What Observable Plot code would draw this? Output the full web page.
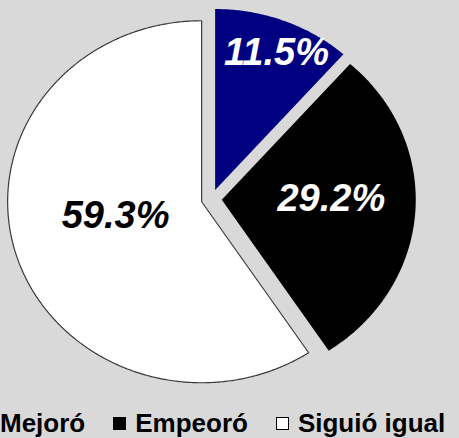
<!DOCTYPE html>
<html><head><meta charset="utf-8">
<script src="https://cdn.jsdelivr.net/npm/d3@7"></script>
<script src="https://cdn.jsdelivr.net/npm/@observablehq/plot@0.6"></script>
<style>
html,body{margin:0;padding:0;background:#d9d9d9;overflow:hidden;width:459px;height:438px}
#chart svg{display:block;background:#d9d9d9}
#legend{display:flex;align-items:center;height:38px;box-sizing:border-box;padding-top:9px;margin-left:-22px;font:bold 26px "Liberation Sans",Arial,sans-serif;color:#000;white-space:nowrap}
.item{display:flex;align-items:center;margin-right:28px}
.sw{width:13px;height:13px;box-sizing:border-box;margin-right:9px;flex:none}
</style></head><body>
<div id="chart"></div><div id="legend"></div>
<script>
// ---- data ----
const categories = ["Mejoró", "Empeoró", "Siguió igual"];
const values = [11.5, 29.2, 59.3];
const labels = ["11.5%", "29.2%", "59.3%"];
const colors = ["#000080", "#000000", "#ffffff"];
const labelColors = ["#ffffff", "#ffffff", "#000000"];

// ---- layout ----
const explode = 0.053;                       // slice offset (unit radius)
const labelPlace = [[22.6, 0.823], [89.3, 0.565], [260.3, 0.45]]; // [angle deg, radius] from slice centre
const rad = d => d * Math.PI / 180;

const total = d3.sum(values);
let acc = 0;
const slices = categories.map((c, i) => {
  const a0 = acc / total * 360; acc += values[i];
  const a1 = acc / total * 360;
  const mid = (a0 + a1) / 2;
  return {c, i, a0, a1, ox: explode * Math.sin(rad(mid)), oy: explode * Math.cos(rad(mid))};
});

const pts = [];
for (const s of slices) {
  pts.push({c: s.c, x: s.ox, y: s.oy});
  const n = Math.ceil((s.a1 - s.a0) / 0.5);
  for (let k = 0; k <= n; k++) {
    const a = rad(s.a0 + (s.a1 - s.a0) * k / n);
    pts.push({c: s.c, x: s.ox + Math.sin(a), y: s.oy + Math.cos(a)});
  }
  pts.push({c: s.c, x: s.ox, y: s.oy});
}

const labelData = slices.map(s => {
  const [ang, r] = labelPlace[s.i];
  return {c: s.c, t: labels[s.i], col: labelColors[s.i], x: s.ox + r * Math.sin(rad(ang)), y: s.oy + r * Math.cos(rad(ang))};
});

const W = 459, H = 400;
const plot = Plot.plot({
  width: W, height: H,
  margin: 0,
  style: {background: "#d9d9d9"},
  x: {axis: null, domain: [-1.0876, 1.2784], range: [0, W]},
  y: {axis: null, domain: [-1.1133, 1.0967], range: [H, 0]},
  color: {domain: categories, range: colors},
  marks: [
    Plot.line(pts, {x: "x", y: "y", z: "c", fill: "c", stroke: "none", curve: "linear"}),
    Plot.line(pts.filter(d => d.c === "Siguió igual"), {x: "x", y: "y", stroke: "#3a3a3a", strokeWidth: 1.2, curve: "linear"}),
    ...labelData.map(d => Plot.text([d], {x: "x", y: "y", text: "t", fill: d.col, fontSize: 38, fontWeight: "bold", fontStyle: "italic", fontFamily: "Liberation Sans, Arial, sans-serif"}))
  ]
});
document.getElementById("chart").appendChild(plot);

const legend = document.getElementById("legend");
categories.forEach((c, i) => {
  const item = document.createElement("div"); item.className = "item";
  const sw = document.createElement("div"); sw.className = "sw";
  sw.style.background = colors[i];
  sw.style.border = "1px solid #000";
  const t = document.createElement("span"); t.textContent = c;
  item.appendChild(sw); item.appendChild(t); legend.appendChild(item);
});
</script>
</body></html>
